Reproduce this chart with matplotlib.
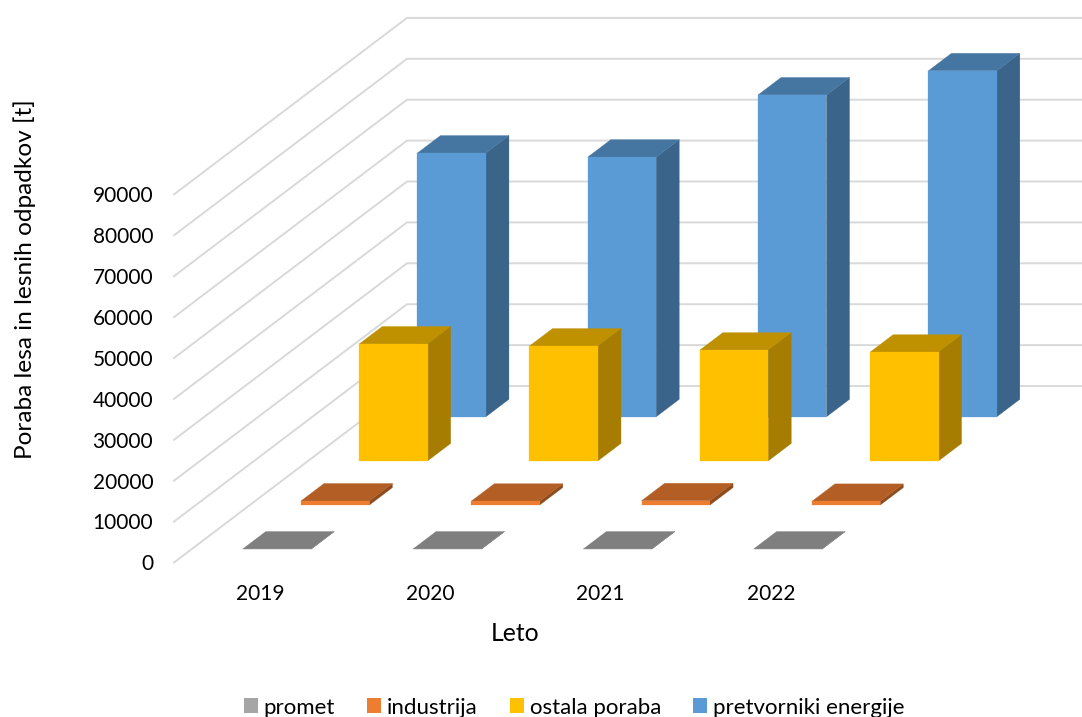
import matplotlib
matplotlib.use('Agg')
import matplotlib.pyplot as plt
from matplotlib.patches import Patch, Polygon

plt.rcParams['font.family'] = ['Lato', 'DejaVu Sans']

YEARS = ['2019', '2020', '2021', '2022']
SERIES = ['promet', 'industrija', 'ostala poraba', 'pretvorniki energije']
PROMET = [50, 50, 50, 50]
INDUSTRIJA = [1000, 950, 1050, 900]
OSTALA = [28600, 28100, 27100, 26600]
PRETVORNIKI = [64500, 63500, 78700, 84600]
YTICKS = [0, 10000, 20000, 30000, 40000, 50000, 60000, 70000, 80000, 90000]

# front, top, side shades of each series
COLORS = [('#A5A5A5', '#7F7F7F', '#7F7F7F'),
          ('#ED7D31', '#B35E25', '#8E4B1D'),
          ('#FFC000', '#BF9000', '#A67D00'),
          ('#5B9BD5', '#4575A1', '#3A6489')]

# oblique projection, one category = 170.3 px and 10000 t = 40.9 px
CAT_PX = 170.3
VAL_PX = 40.9 / 10000
DEPTH_X = 233 / CAT_PX
DEPTH_Y = 176.5 / VAL_PX
BAR_W = 0.402
BAR_D = 0.099
SLOT_D = 0.25


def project(x, v, d):
    return x + d * DEPTH_X, v + d * DEPTH_Y


def draw_bar(ax, x, d, value, shades, z):
    front = [project(x, 0, d), project(x + BAR_W, 0, d),
             project(x + BAR_W, value, d), project(x, value, d)]
    top = [project(x, value, d), project(x + BAR_W, value, d),
           project(x + BAR_W, value, d + BAR_D), project(x, value, d + BAR_D)]
    side = [project(x + BAR_W, 0, d), project(x + BAR_W, 0, d + BAR_D),
            project(x + BAR_W, value, d + BAR_D), project(x + BAR_W, value, d)]
    for pts, col in zip([side, top, front], [shades[2], shades[1], shades[0]]):
        ax.add_patch(Polygon(pts, closed=True, facecolor=col, edgecolor=col,
                             linewidth=0.2, zorder=z))


fig = plt.figure(figsize=(10.82, 7.17), dpi=100)
ax = fig.add_axes([0, 0, 1, 1])
ax.set_xlim(-174 / CAT_PX, (1082 - 174) / CAT_PX)
ax.set_ylim(-(717 - 562.5) / VAL_PX, 562.5 / VAL_PX)
ax.axis('off')

for v in YTICKS:
    xs, ys = zip(project(0, v, 0), project(0, v, 1), project(len(YEARS), v, 1))
    ax.plot(xs, ys, color='#D9D9D9', linewidth=1.4, zorder=1)
    ax.annotate(str(v), xy=(0, v), xytext=(-15, -1.3), textcoords='offset points',
                ha='right', va='center', fontsize=15, color='black')

all_values = [PROMET, INDUSTRIJA, OSTALA, PRETVORNIKI]
for s in range(3, -1, -1):
    d = s * SLOT_D + (SLOT_D - BAR_D) / 2
    for i, value in enumerate(all_values[s]):
        draw_bar(ax, i + 0.3, d, value, COLORS[s], 10 + (3 - s) * 10 + i)

for i, year in enumerate(YEARS):
    ax.annotate(year, xy=(i + 0.5, 0), xytext=(0.7, -22.7), textcoords='offset points',
                ha='center', va='center', fontsize=15)

ax.annotate('Leto', xy=(len(YEARS) / 2, 0), xytext=(0.5, -51), textcoords='offset points',
            ha='center', va='center', fontsize=17.8)
fig.text(25 / 1082, 1 - 279 / 717, 'Poraba lesa in lesnih odpadkov [t]', rotation=90,
         ha='center', va='center', fontsize=17.6)

handles = [Patch(facecolor=c[0], edgecolor='none') for c in COLORS]
ax.legend(handles, SERIES, ncol=4, loc='center', bbox_to_anchor=(574 / 1082, 1 - 707.5 / 717),
          frameon=False, fontsize=16, handlelength=0.63, handleheight=0.63,
          handletextpad=0.27, columnspacing=1.44, borderpad=0)

fig.savefig('out.png', dpi=100)
